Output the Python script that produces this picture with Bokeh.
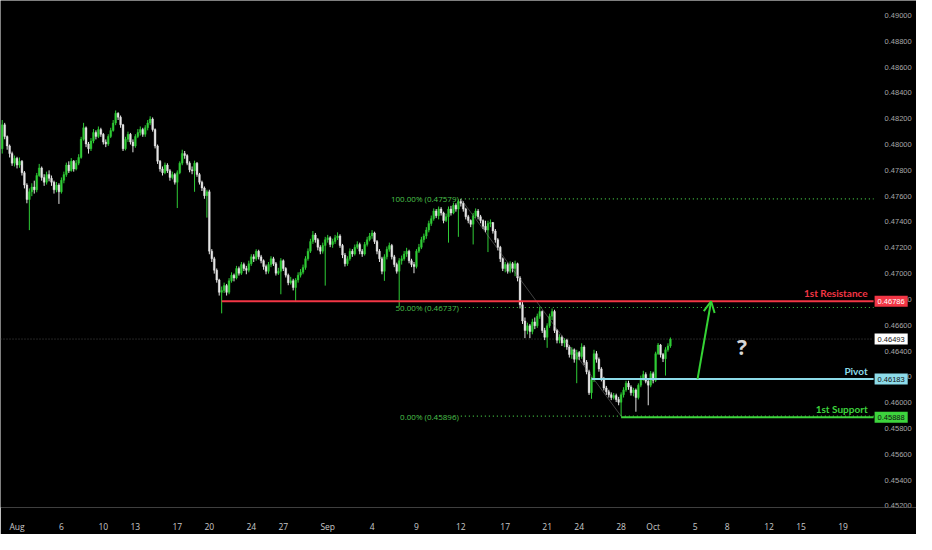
import numpy as np
from bokeh.plotting import figure
from bokeh.models import (ColumnDataSource, Range1d, FixedTicker, SingleIntervalTicker,
                          NumeralTickFormatter, Label, Arrow, OpenHead, LinearAxis)
from bokeh.embed import file_html
from bokeh.resources import INLINE
from bokeh.core.properties import value

# ---------------- data (4h candles, prices in 1e-5 units) ----------------
PRICE_UNIT = 1e-5
first_open = 47967
first_bar = -6          # bars before the Aug 1 session open
bars_per_day = 6

close = [
    48153, 48063, 47989, 47930, 47856, 47893,
    47841, 47871, 47782, 47686, 47574, 47634, 47671, 47649, 47760, 47819,
    47745, 47708, 47767, 47738, 47708, 47649, 47686, 47634, 47723, 47767,
    47841, 47797, 47871, 47811, 47856, 47900, 48041, 48130, 48004, 47967,
    48027, 48093, 48063, 48116, 48079, 48019, 48004, 48063, 48108, 48167,
    48242, 48212, 48153, 47967, 48041, 48079, 48019, 47989, 48063, 48093,
    48116, 48079, 48130, 48167, 48197, 48116, 47989, 47871, 47811, 47782,
    47841, 47797, 47745, 47767, 47708, 47782, 47856, 47930, 47915, 47856,
    47804, 47797, 47856, 47767, 47708, 47663, 47604, 47634, 47174, 47115,
    47026, 46951, 46855, 46870, 46907, 46855, 46944, 46988, 46966, 47040,
    47003, 47070, 47040, 47026, 47077, 47130, 47115, 47174, 47130, 47100,
    47055, 47018, 47070, 47115, 47077, 47003, 47018, 47100, 47040, 46988,
    46929, 46944, 46892, 46951, 46988, 47011, 47048, 47115, 47174, 47248,
    47300, 47263, 47204, 47174, 47218, 47263, 47278, 47226, 47248, 47278,
    47292, 47218, 47144, 47077, 47115, 47174, 47152, 47204, 47226, 47174,
    47152, 47226, 47263, 47292, 47315, 47248, 47174, 47115, 47018, 47130,
    47189, 47218, 47130, 47070, 47018, 47100, 47115, 47152, 47174, 47100,
    47070, 47055, 47174, 47204, 47263, 47292, 47337, 47389, 47426, 47485,
    47448, 47500, 47470, 47411, 47441, 47500, 47470, 47530, 47500, 47559,
    47545, 47500, 47441, 47411, 47382, 47448, 47485, 47441, 47411, 47367,
    47337, 47389, 47396, 47330, 47263, 47204, 47115, 47040, 47070, 47018,
    47077, 47040, 47077, 46966, 46759, 46633, 46559, 46596, 46552, 46626,
    46596, 46670, 46707, 46559, 46507, 46596, 46670, 46707, 46559, 46484,
    46507, 46462, 46484, 46432, 46373, 46410, 46336, 46388, 46358, 46432,
    46314, 46240, 46077, 46180, 46380, 46336, 46262, 46188, 46114, 46085,
    46062, 46040, 46055, 46025, 46003, 46062, 46099, 46151, 46122, 46077,
    46099, 46040, 46136, 46188, 46218, 46166, 46136, 46225, 46173, 46380,
    46447, 46373, 46340, 46410, 46440, 46493,
]
high = [
    48190, 48168, 48070, 48000, 47945, 47915,
    47905, 47900, 47880, 47795, 47700, 47660, 47700, 47720, 47780, 47850,
    47830, 47770, 47790, 47800, 47760, 47720, 47710, 47700, 47745, 47790,
    47860, 47870, 47895, 47880, 47880, 47925, 48060, 48168, 48140, 48020,
    48050, 48120, 48110, 48140, 48130, 48090, 48040, 48080, 48130, 48190,
    48264, 48250, 48225, 48160, 48060, 48100, 48090, 48040, 48080, 48120,
    48140, 48130, 48150, 48190, 48219, 48210, 48125, 48000, 47880, 47830,
    47860, 47855, 47810, 47790, 47780, 47800, 47870, 47960, 47950, 47925,
    47870, 47830, 47875, 47865, 47780, 47720, 47675, 47650, 47650, 47190,
    47130, 47040, 46960, 46900, 46930, 46920, 46965, 47010, 47000, 47060,
    47055, 47090, 47085, 47060, 47100, 47150, 47150, 47189, 47185, 47145,
    47110, 47070, 47090, 47135, 47130, 47090, 47045, 47120, 47110, 47050,
    47000, 46975, 46960, 46965, 47010, 47035, 47070, 47135, 47195, 47270,
    47330, 47315, 47275, 47220, 47240, 47285, 47300, 47290, 47270, 47300,
    47320, 47305, 47230, 47160, 47135, 47195, 47190, 47225, 47250, 47240,
    47190, 47245, 47285, 47315, 47337, 47325, 47260, 47190, 47130, 47150,
    47210, 47240, 47230, 47145, 47085, 47120, 47140, 47175, 47200, 47185,
    47115, 47090, 47190, 47230, 47285, 47310, 47360, 47410, 47450, 47505,
    47500, 47520, 47515, 47480, 47465, 47520, 47525, 47550, 47545, 47575,
    47579, 47560, 47510, 47455, 47420, 47470, 47505, 47500, 47455, 47420,
    47410, 47410, 47420, 47400, 47345, 47275, 47215, 47125, 47090, 47085,
    47095, 47090, 47100, 47085, 46980, 46780, 46660, 46620, 46610, 46650,
    46660, 46690, 46744, 46715, 46580, 46615, 46690, 46730, 46720, 46570,
    46530, 46520, 46500, 46495, 46445, 46430, 46420, 46410, 46400, 46460,
    46445, 46330, 46255, 46200, 46410, 46400, 46350, 46275, 46200, 46130,
    46100, 46080, 46075, 46070, 46045, 46080, 46120, 46170, 46170, 46135,
    46115, 46110, 46150, 46210, 46247, 46235, 46180, 46245, 46240, 46395,
    46462, 46455, 46385, 46430, 46460, 46505,
]
low = [
    47930, 48041, 47960, 47900, 47835, 47830,
    47815, 47820, 47760, 47660, 47545, 47337, 47600, 47620, 47630, 47750,
    47720, 47680, 47690, 47715, 47680, 47620, 47630, 47540, 47620, 47700,
    47750, 47780, 47790, 47790, 47800, 47840, 47890, 48030, 47980, 47930,
    47950, 48010, 48040, 48050, 48060, 48000, 47980, 47990, 48050, 48100,
    48150, 48190, 48130, 47950, 47955, 48020, 48000, 47940, 47975, 48050,
    48070, 48060, 48060, 48110, 48150, 48100, 47970, 47850, 47790, 47760,
    47770, 47780, 47720, 47730, 47690, 47508, 47770, 47840, 47890, 47840,
    47785, 47770, 47634, 47750, 47690, 47640, 47580, 47434, 47150, 47090,
    47000, 46930, 46830, 46692, 46850, 46830, 46840, 46930, 46940, 46955,
    46985, 46990, 47020, 46995, 47010, 47060, 47090, 47100, 47110, 47080,
    47030, 46995, 47000, 47050, 47060, 46985, 46990, 46840, 47020, 46970,
    46910, 46915, 46870, 46781, 46930, 46970, 46995, 47030, 47100, 47160,
    47230, 47240, 47180, 47150, 47155, 46907, 47240, 47205, 47200, 47230,
    47260, 47200, 47120, 47055, 47060, 47100, 47130, 47140, 47190, 47150,
    47130, 47140, 47210, 47250, 47270, 47230, 47150, 47090, 46995, 46944,
    47110, 47170, 47110, 47050, 47000, 46744, 47070, 47100, 47130, 47080,
    47050, 47003, 47040, 47160, 47190, 47240, 47270, 47320, 47370, 47410,
    47430, 47420, 47450, 47390, 47400, 47240, 47450, 47460, 47480, 47285,
    47520, 47480, 47420, 47390, 47360, 47226, 47430, 47420, 47390, 47345,
    47320, 47167, 47360, 47310, 47240, 47180, 47090, 47020, 47010, 47000,
    47003, 47010, 46980, 46940, 46730, 46610, 46500, 46530, 46500, 46530,
    46570, 46580, 46650, 46540, 46485, 46425, 46580, 46640, 46540, 46460,
    46460, 46440, 46430, 46410, 46350, 46340, 46310, 46151, 46330, 46340,
    46290, 46220, 46060, 46030, 46160, 46310, 46240, 46165, 46095, 46060,
    46040, 46020, 46025, 46005, 45980, 45896, 46040, 46085, 46100, 46055,
    46050, 45930, 46025, 46120, 46170, 46150, 45980, 46120, 46150, 46160,
    46370, 46350, 46315, 46210, 46395, 46425,
]

tick_dates = ["2025-08-01", "2025-08-06", "2025-08-10", "2025-08-13", "2025-08-17",
              "2025-08-20", "2025-08-24", "2025-08-27", "2025-09-01", "2025-09-04",
              "2025-09-09", "2025-09-12", "2025-09-17", "2025-09-21", "2025-09-24",
              "2025-09-28", "2025-10-01", "2025-10-05", "2025-10-08", "2025-10-12",
              "2025-10-15", "2025-10-19"]
tick_labels = ["Aug", "6", "10", "13", "17", "20", "24", "27", "Sep", "4", "9", "12",
               "17", "21", "24", "28", "Oct", "5", "8", "12", "15", "19"]

resistance = 0.46786
pivot = 0.46183
support = 0.45888
last_price = 0.46493
fib_top = 0.47579
fib_bottom = 0.45896
fib_ratios = [1.0, 0.5, 0.0]
fib_top_bar = 180
fib_bottom_bar = 245
resistance_from_bar = 83
pivot_from_bar = 233
support_from_bar = 245
arrow_from_bar = 276
arrow_to_bar = 281.5
question_bar = 294
question_price = 0.46433

# ---------------- derived ----------------
assert len(close) == len(high) == len(low)
n = len(close)
xs = np.arange(n) + first_bar
c = np.array(close) * PRICE_UNIT
h = np.array(high) * PRICE_UNIT
l = np.array(low) * PRICE_UNIT
o = np.concatenate([[first_open], close[:-1]]) * PRICE_UNIT

GREEN = "#2fcc36"
WHITE = "#e6e6e6"
colors = [GREEN if cc >= oo else WHITE for cc, oo in zip(c, o)]

start_day = np.datetime64("2025-08-01")
tick_pos = []
for d in tick_dates:
    dd = np.datetime64(d)
    pos = int(np.busday_count(start_day, dd)) * bars_per_day
    weekday = (int(dd.astype("datetime64[D]").astype("int64")) + 3) % 7
    if weekday == 6:   # weekly session opens on Sunday evening
        pos -= 1
    tick_pos.append(pos)

x_start = -6.7       # left edge of the chart
axis_bar = 347.4     # where the price scale begins
x_full = 364.8       # right edge of the canvas
y_start, y_end = 0.45188, 0.49116

p = figure(width=916, height=534, x_range=Range1d(x_start, x_full),
           y_range=Range1d(y_start, y_end), output_backend="svg",
           toolbar_location=None, y_axis_location=None,
           min_border_left=0, min_border_top=0, min_border_bottom=0, min_border_right=0)
p.background_fill_color = "#000000"
p.border_fill_color = "#000000"
p.outline_line_color = None
p.grid.visible = False

# time axis
xa = p.xaxis[0]
xa.ticker = FixedTicker(ticks=tick_pos)
xa.major_label_overrides = {pos: lab for pos, lab in zip(tick_pos, tick_labels)}
xa.axis_line_color = None
xa.major_tick_line_color = None
xa.minor_tick_line_color = None
xa.major_label_text_color = "#c9c9c9"
xa.major_label_text_font = "Open Sans"
xa.major_label_text_font_size = "8.5px"
xa.major_label_standoff = 7

# price axis, drawn at the right edge of the chart area
ya = LinearAxis(fixed_location=axis_bar)
ya.ticker = SingleIntervalTicker(interval=0.002, num_minor_ticks=0)
ya.formatter = NumeralTickFormatter(format="0.00000")
ya.axis_line_color = None
ya.major_tick_line_color = None
ya.minor_tick_line_color = None
ya.major_label_text_color = "#a8a8a8"
ya.major_label_text_font = "Liberation Sans"
ya.major_label_text_font_size = "7.5px"
ya.major_label_standoff = 5
p.add_layout(ya, "right")

# current price dotted line
p.segment(x0=[x_start], y0=[last_price], x1=[axis_bar], y1=[last_price],
          line_color="#4a4a4a", line_width=1, line_dash="1 2")

# candles
src = ColumnDataSource(dict(x=xs, o=o, h=h, l=l, c=c,
                            top=np.maximum(o, c), bottom=np.minimum(o, c), color=colors))
p.segment("x", "h", "x", "l", source=src, line_color="color", line_width=1)
p.vbar(x="x", width=0.72, top="top", bottom="bottom", source=src,
       fill_color="color", line_color="color", line_width=0.4)

# fib retracement
fib_prices = [fib_bottom + r * (fib_top - fib_bottom) for r in fib_ratios]
fib_text = [f"{r*100:.2f}% ({pp:.5f})" for r, pp in zip(fib_ratios, fib_prices)]
p.line([fib_top_bar, fib_bottom_bar], [fib_top, fib_bottom], line_color="#8a8a8a",
       line_width=0.8, line_alpha=0.6)
p.segment(x0=[fib_top_bar] * 3, y0=fib_prices, x1=[axis_bar] * 3, y1=fib_prices,
          line_color="#45c445", line_width=1.2, line_dash="1 3")
p.text(x=[fib_top_bar] * 3, y=fib_prices, text=fib_text, text_align="right",
       text_baseline="middle", x_offset=-2, text_color="#4cc24c",
       text_font=value("Open Sans"), text_font_size="8px")

# levels
lvl_color = ["#f23645", "#8ddbe9", "#3dd43d"]
lvl_price = [resistance, pivot, support]
lvl_from = [resistance_from_bar, pivot_from_bar, support_from_bar]
lvl_name = ["1st Resistance", "Pivot", "1st Support"]
p.segment(x0=lvl_from, y0=lvl_price, x1=[axis_bar] * 3, y1=lvl_price,
          line_color=lvl_color, line_width=2)
p.text(x=[axis_bar] * 3, y=lvl_price, text=lvl_name, text_align="right",
       text_baseline="bottom", x_offset=-6, y_offset=-2, text_color=lvl_color,
       text_font=value("Lato"), text_font_size="10px", text_font_style="bold")

# arrow & question mark
p.add_layout(Arrow(end=OpenHead(size=11, line_color="#35d435", line_width=2),
                   x_start=arrow_from_bar, y_start=pivot, x_end=arrow_to_bar, y_end=resistance,
                   line_color="#35d435", line_width=2))
p.text(x=[question_bar], y=[question_price], text=["?"], text_align="center",
       text_baseline="middle", text_color="#d6d6d6", text_font=value("Open Sans"),
       text_font_size="21px", text_font_style="bold")

# price tags on the price scale
tags = [(resistance, "#f23645", "#ffffff"), (last_price, "#ffffff", "#111111"),
        (pivot, "#8ddbe9", "#111111"), (support, "#3dd43d", "#111111")]
for price, bg, fg in tags:
    p.add_layout(Label(x=axis_bar, y=price, x_offset=1, text=f"{price:.5f}",
                       text_align="left", text_baseline="middle", text_color=fg,
                       text_font="Liberation Sans", text_font_size="7.5px",
                       background_fill_color=bg, padding=3))

open("out.html", "w").write(file_html(p, INLINE))
